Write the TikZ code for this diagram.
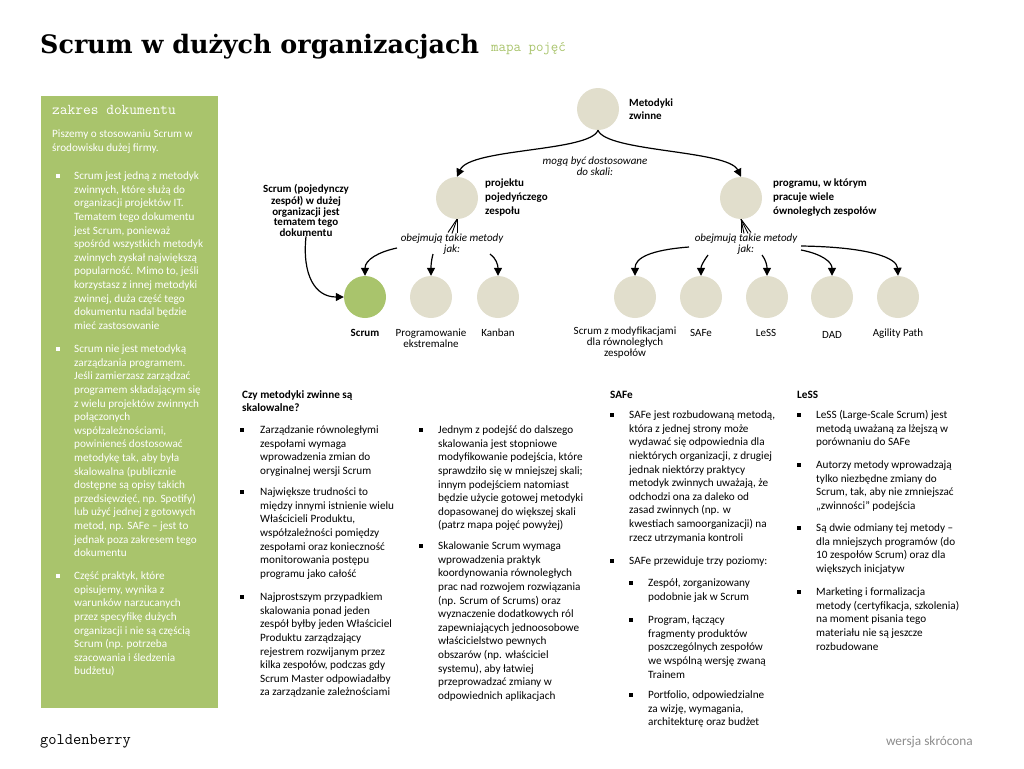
\documentclass[tikz,border=0pt]{standalone}
\usepackage{fontspec}
\setmainfont{Carlito}
\newfontfamily\titlefont{DejaVu Serif}
\usetikzlibrary{arrows.meta,calc}
\definecolor{leaf}{HTML}{A9C46C}
\definecolor{sand}{HTML}{E1DECC}
\definecolor{foot}{HTML}{8C8C8C}
\newcommand\bodyfs{\fontsize{11.2}{13.6}\selectfont}
\newcommand\sqb[3]{\fill[#3] (#1-1.8,#2-1.8) rectangle (#1+1.8,#2+1.8);}
\newcommand\para[5][black]{\node[para,text=#1] (#2) at (#3,#4-6) {\strut #5};}
\begin{document}
\begin{tikzpicture}[x=1pt,y=-1pt,
  para/.style={anchor=north west,inner sep=0pt,align=left,font=\bodyfs},
  head/.style={anchor=north west,inner sep=0pt,align=left,font=\bfseries\fontsize{11.2}{13}\selectfont},
  dot/.style={circle,fill=sand,minimum size=42pt,inner sep=0pt},
  blab/.style={anchor=north west,inner sep=0pt,align=left},
  ulab/.style={anchor=north,inner sep=0pt,align=center,font=\fontsize{11}{11}\selectfont},
  elab/.style={anchor=north,inner sep=0pt,align=center,font=\itshape\fontsize{11}{10}\selectfont},
  arr/.style={line width=1.2pt,-{Triangle[length=8pt,width=8pt]}},
  fan/.style={line width=0.9pt}]
\useasboundingbox (0,0) rectangle (1024,768);

% title
\node[anchor=base west,inner sep=0pt,font=\titlefont\bfseries\fontsize{25.4}{26}\selectfont] (title) at (40,53) {Scrum w dużych organizacjach};
\node[anchor=base west,inner sep=0pt,text=leaf,font=\ttfamily\fontsize{14.5}{14.5}\selectfont] (sub) at (491,52) {mapa pojęć};

% sidebar
\fill[leaf] (41,96) rectangle (218,708);
\node[anchor=base west,inner sep=0pt,text=white,font=\ttfamily\fontsize{15}{15}\selectfont] (zak) at (52,114) {zakres dokumentu};
\para[white]{sp}{52}{134}{Piszemy o stosowaniu Scrum w\\środowisku dużej firmy.}
\sqb{58}{176}{white}
\para[white]{sb1}{74}{176}{Scrum jest jedną z metodyk\\zwinnych, które służą do\\organizacji projektów IT.\\Tematem tego dokumentu\\jest Scrum, ponieważ\\spośród wszystkich metodyk\\zwinnych zyskał największą\\popularność. Mimo to, jeśli\\korzystasz z innej metodyki\\zwinnej, duża część tego\\dokumentu nadal będzie\\mieć zastosowanie}
\sqb{58}{349}{white}
\para[white]{sb2}{74}{349}{Scrum nie jest metodyką\\zarządzania programem.\\Jeśli zamierzasz zarządzać\\programem składającym się\\z wielu projektów zwinnych\\połączonych\\współzależnościami,\\powinieneś dostosować\\metodykę tak, aby była\\skalowalna (publicznie\\dostępne są opisy takich\\przedsięwzięć, np. Spotify)\\lub użyć jednej z gotowych\\metod, np. SAFe – jest to\\jednak poza zakresem tego\\dokumentu}
\sqb{58}{576}{white}
\para[white]{sb3}{74}{576}{Część praktyk, które\\opisujemy, wynika z\\warunków narzucanych\\przez specyfikę dużych\\organizacji i nie są częścią\\Scrum (np. potrzeba\\szacowania i śledzenia\\budżetu)}

% column 1
\node[head] (h1) at (242,395-6) {\strut Czy metodyki zwinne są\\skalowalne?};
\sqb{242}{430}{black}
\para{c1a}{260}{430}{Zarządzanie równoległymi\\zespołami wymaga\\wprowadzenia zmian do\\oryginalnej wersji Scrum}
\sqb{242}{492}{black}
\para{c1b}{260}{492}{Największe trudności to\\między innymi istnienie wielu\\Właścicieli Produktu,\\współzależności pomiędzy\\zespołami oraz konieczność\\monitorowania postępu\\programu jako całość}
\sqb{242}{597}{black}
\para{c1c}{260}{597}{Najprostszym przypadkiem\\skalowania ponad jeden\\zespół byłby jeden Właściciel\\Produktu zarządzający\\rejestrem rozwijanym przez\\kilka zespołów, podczas gdy\\Scrum Master odpowiadałby\\za zarządzanie zależnościami}

% column 2
\sqb{421}{430}{black}
\para{c2a}{438}{430}{Jednym z podejść do dalszego\\skalowania jest stopniowe\\modyfikowanie podejścia, które\\sprawdziło się w mniejszej skali;\\innym podejściem natomiast\\będzie użycie gotowej metodyki\\dopasowanej do większej skali\\(patrz mapa pojęć powyżej)}
\sqb{421}{546}{black}
\para{c2b}{438}{546}{Skalowanie Scrum wymaga\\wprowadzenia praktyk\\koordynowania równoległych\\prac nad rozwojem rozwiązania\\(np. Scrum of Scrums) oraz\\wyznaczenie dodatkowych ról\\zapewniających jednoosobowe\\właścicielstwo pewnych\\obszarów (np. właściciel\\systemu), aby łatwiej\\przeprowadzać zmiany w\\odpowiednich aplikacjach}

% column 3
\node[head] (h3) at (610,395-6) {\strut SAFe};
\sqb{612}{415}{black}
\para{c3a}{629}{415}{SAFe jest rozbudowaną metodą,\\która z jednej strony może\\wydawać się odpowiednia dla\\niektórych organizacji, z drugiej\\jednak niektórzy praktycy\\metodyk zwinnych uważają, że\\odchodzi ona za daleko od\\zasad zwinnych (np. w\\kwestiach samoorganizacji) na\\rzecz utrzymania kontroli}
\sqb{612}{561}{black}
\para{c3b}{629}{561}{SAFe przewiduje trzy poziomy:}
\sqb{631}{583}{black}
\para{c3c}{648}{583}{Zespół, zorganizowany\\podobnie jak w Scrum}
\sqb{631}{620}{black}
\para{c3d}{648}{620}{Program, łączący\\fragmenty produktów\\poszczególnych zespołów\\we wspólną wersję zwaną\\Trainem}
\sqb{631}{695}{black}
\para{c3e}{648}{695}{Portfolio, odpowiedzialne\\za wizję, wymagania,\\architekturę oraz budżet}

% column 4
\node[head] (h4) at (797,395-6) {\strut LeSS};
\sqb{799}{415}{black}
\para{c4a}{816}{415}{LeSS (Large-Scale Scrum) jest\\metodą uważaną za lżejszą w\\porównaniu do SAFe}
\sqb{799}{465}{black}
\para{c4b}{816}{465}{Autorzy metody wprowadzają\\tylko niezbędne zmiany do\\Scrum, tak, aby nie zmniejszać\\„zwinności” podejścia}
\sqb{799}{528}{black}
\para{c4c}{816}{528}{Są dwie odmiany tej metody –\\dla mniejszych programów (do\\10 zespołów Scrum) oraz dla\\większych inicjatyw}
\sqb{799}{592}{black}
\para{c4d}{816}{592}{Marketing i formalizacja\\metody (certyfikacja, szkolenia)\\na moment pisania tego\\materiału nie są jeszcze\\rozbudowane}

% footer
\node[anchor=base west,inner sep=0pt,font=\ttfamily\fontsize{16}{16}\selectfont] (gb) at (40,744) {goldenberry};
\node[anchor=base east,inner sep=0pt,text=foot,font=\fontsize{13.3}{14}\selectfont] (ws) at (973,745) {wersja skrócona};

% map circles
\node[dot] (mz) at (598,109) {};
\node[dot] (pz) at (457,198) {};
\node[dot] (pr) at (741,198) {};
\node[dot,fill=leaf] (k1) at (365,297) {};
\node[dot] (k2) at (431,297) {};
\node[dot] (k3) at (498,297) {};
\node[dot] (k4) at (635,297) {};
\node[dot] (k5) at (701,297) {};
\node[dot] (k6) at (767,297) {};
\node[dot] (k7) at (832,297) {};
\node[dot] (k8) at (898,297) {};

% map labels
\node[blab,font=\bfseries\fontsize{11}{13}\selectfont] (lmz) at (629,97.4) {\strut Metodyki\\zwinne};
\node[blab,font=\bfseries\fontsize{11}{14}\selectfont] (lpz) at (485,176.7) {\strut projektu\\pojedyńczego\\zespołu};
\node[blab,font=\bfseries\fontsize{11}{14}\selectfont] (lpr) at (773,176.7) {\strut programu, w którym\\pracuje wiele\\ównoległych zespołów};
\node[anchor=north,inner sep=0pt,align=center,font=\bfseries\fontsize{11}{10.5}\selectfont] (anno) at (306,184) {\strut Scrum (pojedynczy\\zespół) w dużej\\organizacji jest\\tematem tego\\dokumentu};

\node[ulab] (u1) at (365,328.8) {\strut\bfseries Scrum};
\node[ulab] (u2) at (431,328.8) {\strut Programowanie\\ekstremalne};
\node[ulab] (u3) at (498,328.8) {\strut Kanban};
\node[ulab] (u4) at (625,326.8) {\strut Scrum z modyfikacjami\\dla równoległych\\zespołów};
\node[ulab] (u5) at (701,328.8) {\strut SAFe};
\node[ulab] (u6) at (766,328.8) {\strut LeSS};
\node[ulab] (u7) at (832,330.8) {\strut DAD};
\node[ulab] (u8) at (898,328.8) {\strut Agility Path};

\node[elab] (lsk) at (595,156.5) {\strut mogą być dostosowane\\do skali:};
\node[elab] (lo1) at (452,233.5) {\strut obejmują takie metody\\jak:};
\node[elab] (lo2) at (746,233.5) {\strut obejmują takie metody\\jak:};

% connectors
\draw[arr] (mz.south) .. controls (590,152) and (470,148) .. (pz.north);
\draw[arr] (mz.south) .. controls (606,152) and (728,150) .. (pr.north);
\draw[fan] ($(lo1.north)+(-4,-1)$) -- (pz.south);
\draw[fan] ($(lo1.north)+(5,-1)$) -- (pz.south);
\draw[fan] ($(lo1.north)+(0,0)$) -- (pz.south);
\draw[fan] ($(lo2.north)+(-5,-1)$) -- (pr.south);
\draw[fan] ($(lo2.north)+(-2,0)$) -- (pr.south);
\draw[fan] ($(lo2.north)+(2,0)$) -- (pr.south);
\draw[fan] ($(lo2.north)+(5,-1)$) -- (pr.south);

\coordinate (s1) at (397,248);
\coordinate (s2) at (433,254);
\coordinate (s3) at (490,254);
\draw[arr] (s1) .. controls (378,252) and (365,260) .. (k1.north);
\draw[arr] (s2) .. controls (431,262) and (431,266) .. (k2.north);
\draw[arr] (s3) .. controls (496,258) and (498,265) .. (k3.north);

\coordinate (t1) at (689,247);
\coordinate (t2) at (708,255);
\coordinate (t3) at (762,255);
\coordinate (t4) at (801,250);
\coordinate (t5) at (801,246);
\draw[arr] (t1) .. controls (650,250) and (635,258) .. (k4.north);
\draw[arr] (t2) .. controls (703,262) and (701,266) .. (k5.north);
\draw[arr] (t3) .. controls (766,260) and (767,266) .. (k6.north);
\draw[arr] (t4) .. controls (822,254) and (832,262) .. (k7.north);
\draw[arr] (t5) .. controls (870,247) and (897,258) .. (k8.north);

\draw[arr] (anno.south) .. controls (302,275) and (315,297) .. (k1.west);
\end{tikzpicture}
\end{document}
